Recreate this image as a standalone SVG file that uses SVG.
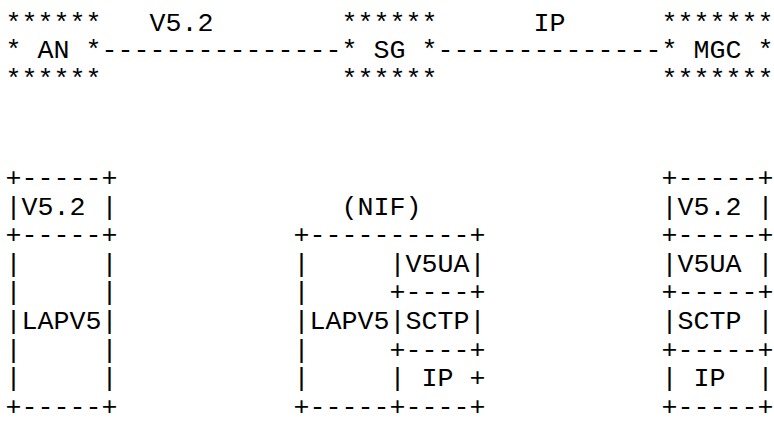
<svg xmlns="http://www.w3.org/2000/svg" width="774" height="424" viewBox="0 0 774 424" xml:space="preserve">
<style>
.t{font-family:"Liberation Mono","Courier New",monospace;font-size:26.67px;fill:#000;white-space:pre}
</style>
<rect width="774" height="424" fill="#fff"/>
<g id="connectors">
<text class="t" x="101.5" y="58">---------------</text>
<text class="t" x="437.5" y="58">--------------</text>
</g>
<g id="node-an">
<text class="t" x="5.5" y="30.5">******</text>
<text class="t" x="5.5" y="58">* AN *</text>
<text class="t" x="5.5" y="87">******</text>
</g>
<g id="node-sg">
<text class="t" x="341.5" y="30.5">******</text>
<text class="t" x="341.5" y="58">* SG *</text>
<text class="t" x="341.5" y="87">******</text>
</g>
<g id="node-mgc">
<text class="t" x="661.5" y="30.5">*******</text>
<text class="t" x="661.5" y="58">* MGC *</text>
<text class="t" x="661.5" y="87">*******</text>
</g>
<g id="labels">
<text class="t" x="149.5" y="30.5">V5.2</text>
<text class="t" x="533.5" y="30.5">IP</text>
</g>
<g id="stack-an">
<text class="t" x="5.5" y="186">+-----+</text>
<text class="t" x="5.5" y="214.6">|V5.2 |</text>
<text class="t" x="5.5" y="243.2">+-----+</text>
<text class="t" x="5.5" y="271.8">|     |</text>
<text class="t" x="5.5" y="300.4">|     |</text>
<text class="t" x="5.5" y="329">|LAPV5|</text>
<text class="t" x="5.5" y="357.6">|     |</text>
<text class="t" x="5.5" y="386.2">|     |</text>
<text class="t" x="5.5" y="415">+-----+</text>
</g>
<g id="stack-sg">
<text class="t" x="341.5" y="214.6">(NIF)</text>
<text class="t" x="293.5" y="243.2">+----------+</text>
<text class="t" x="293.5" y="271.8">|     |V5UA|</text>
<text class="t" x="293.5" y="300.4">|     +----+</text>
<text class="t" x="293.5" y="329">|LAPV5|SCTP|</text>
<text class="t" x="293.5" y="357.6">|     +----+</text>
<text class="t" x="293.5" y="386.2">|     | IP +</text>
<text class="t" x="293.5" y="415">+-----+----+</text>
</g>
<g id="stack-mgc">
<text class="t" x="661.5" y="186">+-----+</text>
<text class="t" x="661.5" y="214.6">|V5.2 |</text>
<text class="t" x="661.5" y="243.2">+-----+</text>
<text class="t" x="661.5" y="271.8">|V5UA |</text>
<text class="t" x="661.5" y="300.4">+-----+</text>
<text class="t" x="661.5" y="329">|SCTP |</text>
<text class="t" x="661.5" y="357.6">+-----+</text>
<text class="t" x="661.5" y="386.2">| IP  |</text>
<text class="t" x="661.5" y="415">+-----+</text>
</g>
</svg>
